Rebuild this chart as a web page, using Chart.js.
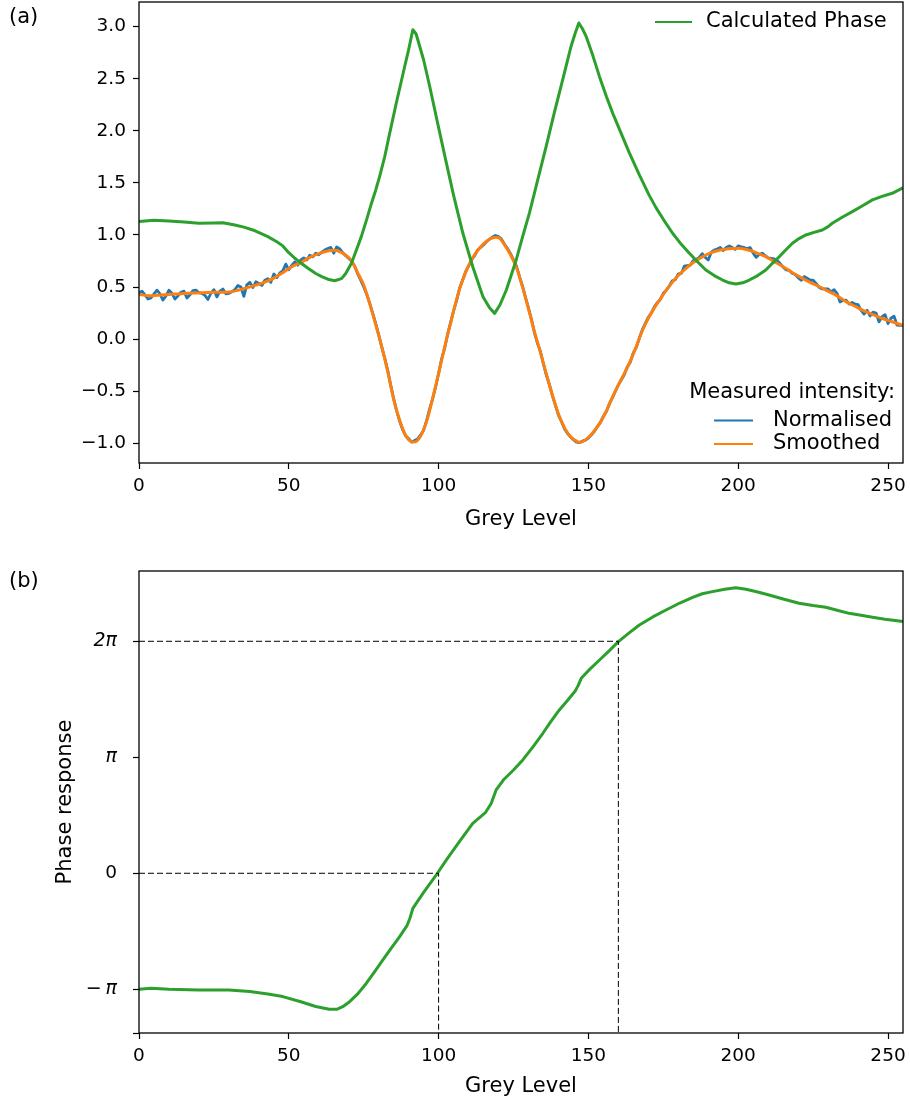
<!DOCTYPE html>
<html>
<head>
<meta charset="utf-8">
<title>Grey level phase response</title>
<script src="https://cdn.jsdelivr.net/npm/chart.js@4.4.1/dist/chart.umd.min.js"></script>
<style>
  html, body { margin: 0; padding: 0; background: #fff; }
  #wrap { position: relative; width: 910px; height: 1109px; }
  canvas { position: absolute; left: 0; }
  #chartA { top: 0; }
  #chartB { top: 545px; }
</style>
</head>
<body>
<div id="wrap">
  <canvas id="chartA" width="910" height="545"></canvas>
  <canvas id="chartB" width="910" height="564"></canvas>
</div>
<script>
// ---- (a) measured intensity and calculated phase vs grey level ----
// Normalised intensity, one value per grey level 0..255
const normalisedIntensity = [
  0.445, 0.46, 0.425, 0.385, 0.395, 0.435, 0.47, 0.435, 0.375, 0.415,
  0.47, 0.44, 0.385, 0.415, 0.45, 0.46, 0.395, 0.425, 0.465, 0.47,
  0.445, 0.44, 0.42, 0.38, 0.44, 0.475, 0.405, 0.46, 0.48, 0.435,
  0.44, 0.455, 0.475, 0.515, 0.50, 0.41, 0.52, 0.545, 0.495, 0.55,
  0.535, 0.515, 0.565, 0.58, 0.545, 0.625, 0.59, 0.635, 0.655, 0.72,
  0.665, 0.71, 0.74, 0.71, 0.76, 0.78, 0.76, 0.805, 0.79, 0.825,
  0.81, 0.835, 0.855, 0.87, 0.88, 0.825, 0.885, 0.865, 0.83, 0.80,
  0.775, 0.745, 0.70, 0.625, 0.565, 0.50, 0.43, 0.345, 0.25, 0.15,
  0.04, -0.075, -0.18, -0.30, -0.44, -0.57, -0.69, -0.79, -0.87, -0.93,
  -0.955, -0.99, -0.975, -0.96, -0.92, -0.875, -0.78, -0.67, -0.575, -0.46,
  -0.33, -0.19, -0.09, 0.045, 0.16, 0.27, 0.37, 0.49, 0.565, 0.645,
  0.70, 0.76, 0.80, 0.855, 0.88, 0.905, 0.935, 0.96, 0.98, 0.995,
  0.985, 0.96, 0.91, 0.87, 0.82, 0.76, 0.70, 0.60, 0.51, 0.40,
  0.30, 0.19, 0.06, -0.04, -0.12, -0.24, -0.35, -0.44, -0.545, -0.635,
  -0.73, -0.79, -0.86, -0.905, -0.94, -0.965, -0.99, -0.995, -0.98, -0.97,
  -0.95, -0.92, -0.885, -0.84, -0.80, -0.74, -0.695, -0.62, -0.565, -0.50,
  -0.44, -0.39, -0.34, -0.265, -0.22, -0.13, -0.08, 0.01, 0.09, 0.15,
  0.21, 0.25, 0.31, 0.35, 0.38, 0.44, 0.47, 0.51, 0.56, 0.57,
  0.625, 0.63, 0.70, 0.705, 0.71, 0.755, 0.765, 0.785, 0.82, 0.785,
  0.76, 0.835, 0.855, 0.865, 0.88, 0.85, 0.88, 0.895, 0.88, 0.862,
  0.895, 0.885, 0.88, 0.868, 0.878, 0.825, 0.785, 0.812, 0.825, 0.80,
  0.78, 0.775, 0.77, 0.755, 0.725, 0.69, 0.665, 0.66, 0.632, 0.62,
  0.59, 0.565, 0.60, 0.585, 0.565, 0.565, 0.535, 0.497, 0.482, 0.482,
  0.482, 0.452, 0.475, 0.437, 0.357, 0.372, 0.375, 0.337, 0.352, 0.337,
  0.33, 0.277, 0.24, 0.277, 0.222, 0.258, 0.25, 0.165, 0.215, 0.235,
  0.15, 0.20, 0.22, 0.135, 0.132, 0.13
];
const greyLevels = normalisedIntensity.map((_, i) => i);

// Smoothed intensity: [grey level, value]
const smoothedIntensity = [
  [0, 0.43], [3, 0.417], [6, 0.421], [9, 0.426], [12, 0.432], [15, 0.438], [18, 0.443],
  [21, 0.446], [24, 0.448], [27, 0.45], [30, 0.453], [33, 0.468], [36, 0.493], [39, 0.518],
  [42, 0.547], [45, 0.585], [48, 0.638], [51, 0.694], [54, 0.735], [57, 0.785], [60, 0.82],
  [63, 0.845], [65, 0.852], [67, 0.84], [69, 0.805], [71, 0.75], [73, 0.635], [75, 0.52],
  [77, 0.34], [79, 0.14], [81, -0.07], [83, -0.31], [85, -0.58], [87, -0.78], [89, -0.925],
  [91, -0.985], [92, -0.988], [94, -0.93], [96, -0.79], [98, -0.57], [100, -0.33], [102, -0.08],
  [103, 0.04], [104, 0.15], [105, 0.27], [106, 0.38], [107, 0.48], [108, 0.565], [109, 0.64],
  [110, 0.705], [112, 0.81], [114, 0.885], [116, 0.94],
  [118, 0.972], [119, 0.978], [120, 0.975], [122, 0.905], [124, 0.81], [126, 0.685], [128, 0.50],
  [130, 0.29], [132, 0.07], [134, -0.13], [136, -0.34], [138, -0.54], [140, -0.72], [142, -0.85],
  [144, -0.935], [146, -0.98], [147, -0.99], [148, -0.985], [150, -0.945], [152, -0.88], [154, -0.80],
  [156, -0.69], [158, -0.56], [160, -0.44], [162, -0.33], [164, -0.21], [166, -0.07], [168, 0.08],
  [170, 0.20], [172, 0.30], [174, 0.385], [176, 0.47], [178, 0.545], [180, 0.61], [182, 0.665],
  [185, 0.735], [188, 0.79], [191, 0.83], [194, 0.855], [197, 0.868], [200, 0.872], [203, 0.858],
  [206, 0.83], [209, 0.795], [212, 0.745], [215, 0.695], [218, 0.64], [221, 0.59], [224, 0.545],
  [227, 0.505], [230, 0.46], [233, 0.415], [236, 0.36], [239, 0.315], [242, 0.27], [245, 0.235],
  [248, 0.20], [251, 0.17], [254, 0.14], [255, 0.13]
];

// Calculated phase (rad): [grey level, value]
const calculatedPhase = [
  [0, 1.128], [5, 1.14], [10, 1.135], [15, 1.125], [20, 1.112], [25, 1.115], [28, 1.118],
  [32, 1.096], [35, 1.075], [38, 1.048], [41, 1.01], [43, 0.984], [46, 0.935], [48, 0.895],
  [50, 0.83], [52, 0.776], [54, 0.73], [56.4, 0.68], [59, 0.63], [61, 0.6], [63, 0.575],
  [65.3, 0.56], [67.6, 0.58], [69, 0.63], [70.9, 0.728], [72.5, 0.85], [74.2, 0.984],
  [76, 1.15], [77.6, 1.305], [79, 1.43], [80.3, 1.56], [82, 1.75], [83.7, 1.98], [85.9, 2.27],
  [88.7, 2.62], [90, 2.78], [91.4, 2.97], [92.5, 2.93], [95, 2.68], [97, 2.43], [100, 2.03],
  [102.6, 1.69], [105, 1.38], [108.1, 1.016], [111.4, 0.695], [114.8, 0.407], [117, 0.3],
  [118.7, 0.247], [120.5, 0.33], [122.6, 0.471], [125.9, 0.76], [128, 0.98], [130.3, 1.21],
  [133, 1.52], [135.9, 1.85], [138.5, 2.16], [141.4, 2.49], [144.2, 2.81], [145.5, 2.93],
  [146.8, 3.035], [148, 2.98], [149.2, 2.91], [151.5, 2.72], [153.7, 2.52], [156, 2.33],
  [158.1, 2.17], [161, 1.97], [163.7, 1.786], [167, 1.577], [170.3, 1.38], [172.6, 1.26],
  [175, 1.15], [178.1, 1.016], [181, 0.91], [183.7, 0.824], [186.5, 0.74], [189.2, 0.663],
  [192, 0.61], [194.8, 0.567], [197, 0.54], [199.2, 0.529], [201.5, 0.54], [203.7, 0.567],
  [206.5, 0.61], [209.2, 0.663], [211.5, 0.73], [213.7, 0.791], [216, 0.86], [218.1, 0.92],
  [220.3, 0.965], [222.6, 1.0], [225.3, 1.025], [228.1, 1.048], [230, 1.08], [231.4, 1.112],
  [234.7, 1.17], [238.1, 1.224], [241.5, 1.28], [244.8, 1.337], [248, 1.37], [251.4, 1.4],
  [254.8, 1.449], [255, 1.45]
];

// ---- (b) phase response vs grey level, in units of pi ----
const phaseResponse = [
  [0, -1.0], [4, -0.992], [10, -1.0], [20, -1.006], [30, -1.006], [37, -1.02], [43, -1.04],
  [48, -1.063], [54, -1.108], [59, -1.149], [63.5, -1.172], [66, -1.173], [68, -1.15],
  [70.3, -1.107], [73, -1.04], [75.9, -0.948], [78.6, -0.85], [81.4, -0.747], [84.2, -0.645],
  [87, -0.546], [89.4, -0.454], [90.4, -0.39], [91.4, -0.302], [95, -0.165], [99.6, 0],
  [102.6, 0.115], [107, 0.275], [111.4, 0.431], [115.7, 0.526], [117.5, 0.6], [119.2, 0.718],
  [121.6, 0.804], [125, 0.89], [128.1, 0.977], [131.5, 1.09], [134.8, 1.207], [137.5, 1.31],
  [140.3, 1.408], [143, 1.49], [145.6, 1.572], [146.6, 1.62], [147.6, 1.681], [150.5, 1.76],
  [153.7, 1.839], [157, 1.92], [160, 1.997], [163.5, 2.07], [167, 2.14], [171.5, 2.21],
  [175.9, 2.27], [180.5, 2.33], [184.8, 2.379], [188, 2.41], [191.4, 2.428], [195.5, 2.448],
  [199.2, 2.462], [202.6, 2.448], [206.5, 2.425], [210.3, 2.399], [215, 2.365], [220.3, 2.328],
  [225, 2.308], [229.2, 2.293], [233, 2.268], [237, 2.241], [241, 2.224], [244.8, 2.207],
  [249, 2.19], [253.7, 2.175], [255, 2.17]
];

// Grey levels that give 0 and 2pi, marked with dashed guides
const guideGreyLevels = [100, 160];
const guidePhases = [0, 2];

// Axis ticks
const greyTicks = [0, 50, 100, 150, 200, 250];
const intensityTicks = [-1.0, -0.5, 0.0, 0.5, 1.0, 1.5, 2.0, 2.5, 3.0];
const responseTickValues = [-1.377, -1, 0, 1, 2];
const responseTickLabels = ['', '\u2212\u2009\u03c0', '0', '\u03c0', '2\u03c0'];

// ---- shared styling ----
const FONT = "'DejaVu Sans', 'Liberation Sans', sans-serif";
const BLUE = '#1f77b4', ORANGE = '#ff7f0e', GREEN = '#2ca02c';
const toXY = pairs => pairs.map(([x, y]) => ({ x, y }));
const minus = s => s.replace('-', '\u2212');
const noEdgePadding = s => { s.paddingTop = 0; s.paddingBottom = 0; s.paddingLeft = 0; s.paddingRight = 0; };

function greyAxis(heightPx, titlePadBottom) {
  return {
    type: 'linear', min: 0, max: 255,
    afterBuildTicks: s => { s.ticks = greyTicks.map(v => ({ value: v })); },
    afterFit: s => { s.height = heightPx; noEdgePadding(s); },
    ticks: { color: '#000', font: { family: FONT, size: 18.5 }, padding: 6, maxRotation: 0 },
    grid: { display: true, drawOnChartArea: false, drawTicks: true, tickLength: 6, tickColor: '#000', tickWidth: 1.2 },
    border: { display: false },
    title: { display: true, text: 'Grey Level', color: '#000', font: { family: FONT, size: 21 }, padding: { top: 0, bottom: titlePadBottom } }
  };
}

// Box round each plot area
const frame = {
  id: 'frame',
  afterDatasetsDraw(chart) {
    const { ctx, chartArea: a } = chart;
    ctx.save();
    ctx.strokeStyle = '#000';
    ctx.lineWidth = 1.3;
    ctx.strokeRect(a.left, a.top, a.right - a.left, a.bottom - a.top);
    ctx.restore();
  }
};

function keyLine(ctx, x1, x2, y, color) {
  ctx.strokeStyle = color;
  ctx.lineWidth = 1.8;
  ctx.beginPath(); ctx.moveTo(x1, y); ctx.lineTo(x2, y); ctx.stroke();
}

// Panel letters and the two legends of panel (a)
const annotationsA = {
  id: 'annotationsA',
  afterDraw(chart) {
    const { ctx, chartArea: a } = chart;
    const r = a.right;
    ctx.save();
    ctx.fillStyle = '#000';
    ctx.textBaseline = 'middle';
    ctx.font = `21px ${FONT}`;
    ctx.textAlign = 'left';
    ctx.fillText('(a)', 9, 18);
    keyLine(ctx, r - 248, r - 211, 22, GREEN);
    ctx.fillText('Calculated Phase', r - 197, 22);
    ctx.textAlign = 'right';
    ctx.fillText('Measured intensity:', r - 8, 393);
    ctx.textAlign = 'left';
    keyLine(ctx, r - 189, r - 150, 420.5, BLUE);
    ctx.fillText('Normalised', r - 130, 420.5);
    keyLine(ctx, r - 189, r - 150, 444, ORANGE);
    ctx.fillText('Smoothed', r - 130, 444);
    ctx.restore();
  }
};

const annotationsB = {
  id: 'annotationsB',
  afterDraw(chart) {
    const { ctx } = chart;
    ctx.save();
    ctx.fillStyle = '#000';
    ctx.textBaseline = 'middle';
    ctx.font = `21px ${FONT}`;
    ctx.fillText('(b)', 9, 37);
    ctx.restore();
  }
};

Chart.defaults.devicePixelRatio = 1;

// ---- chart (a) ----
new Chart(document.getElementById('chartA'), {
  type: 'line',
  data: {
    datasets: [
      { label: 'Calculated Phase', data: toXY(calculatedPhase), borderColor: GREEN, borderWidth: 3, tension: 0 },
      { label: 'Smoothed', data: toXY(smoothedIntensity), borderColor: ORANGE, borderWidth: 3, cubicInterpolationMode: 'monotone' },
      { label: 'Normalised', data: greyLevels.map((g, i) => ({ x: g, y: normalisedIntensity[i] })), borderColor: BLUE, borderWidth: 2.8, tension: 0 }
    ]
  },
  options: {
    responsive: false, animation: false, parsing: false,
    elements: { point: { radius: 0, hoverRadius: 0 }, line: { borderCapStyle: 'round', borderJoinStyle: 'round' } },
    layout: { padding: { top: 2, right: 7, left: 0, bottom: 0 } },
    plugins: { legend: { display: false }, tooltip: { enabled: false } },
    scales: {
      x: greyAxis(82, 13),
      y: {
        type: 'linear', min: -1.19, max: 3.237,
        afterBuildTicks: s => { s.ticks = intensityTicks.map(v => ({ value: v })); },
        afterFit: s => { s.width = 139; noEdgePadding(s); },
        ticks: { color: '#000', font: { family: FONT, size: 18.5 }, padding: 7, callback: v => minus(Number(v).toFixed(1)) },
        grid: { display: true, drawOnChartArea: false, drawTicks: true, tickLength: 6, tickColor: '#000', tickWidth: 1.2 },
        border: { display: false }
      }
    }
  },
  plugins: [frame, annotationsA]
});

// ---- chart (b) ----
const responseMin = responseTickValues[0];
const guideSets = guideGreyLevels.map((g, i) => ({
  label: 'guide ' + i,
  data: [{ x: 0, y: guidePhases[i] }, { x: g, y: guidePhases[i] }, { x: g, y: responseMin }],
  borderColor: '#000', borderWidth: 1, borderDash: [6, 3], tension: 0
}));

new Chart(document.getElementById('chartB'), {
  type: 'line',
  data: {
    datasets: [
      ...guideSets,
      { label: 'Phase response', data: toXY(phaseResponse), borderColor: GREEN, borderWidth: 3, tension: 0 }
    ]
  },
  options: {
    responsive: false, animation: false, parsing: false,
    elements: { point: { radius: 0, hoverRadius: 0 }, line: { borderCapStyle: 'butt', borderJoinStyle: 'round' } },
    layout: { padding: { top: 26, right: 7, left: 0, bottom: 0 } },
    plugins: { legend: { display: false }, tooltip: { enabled: false } },
    scales: {
      x: greyAxis(76, 10),
      y: {
        type: 'linear', min: responseMin, max: 2.606,
        afterBuildTicks: s => { s.ticks = responseTickValues.map(v => ({ value: v })); },
        afterFit: s => { s.width = 139; noEdgePadding(s); },
        ticks: {
          color: '#000', padding: 16,
          font: ctx => {
            const lbl = responseTickLabels[ctx.index] || '';
            return lbl.includes('\u03c0') ? { family: FONT, size: 19, style: 'italic' } : { family: FONT, size: 18.5 };
          },
          callback: (v, i) => responseTickLabels[i]
        },
        grid: { display: true, drawOnChartArea: false, drawTicks: true, tickLength: 6, tickColor: '#000', tickWidth: 1.2 },
        border: { display: false },
        title: { display: true, text: 'Phase response', color: '#000', font: { family: FONT, size: 21 }, padding: { top: 53, bottom: 0 } }
      }
    }
  },
  plugins: [frame, annotationsB]
});
</script>
</body>
</html>
